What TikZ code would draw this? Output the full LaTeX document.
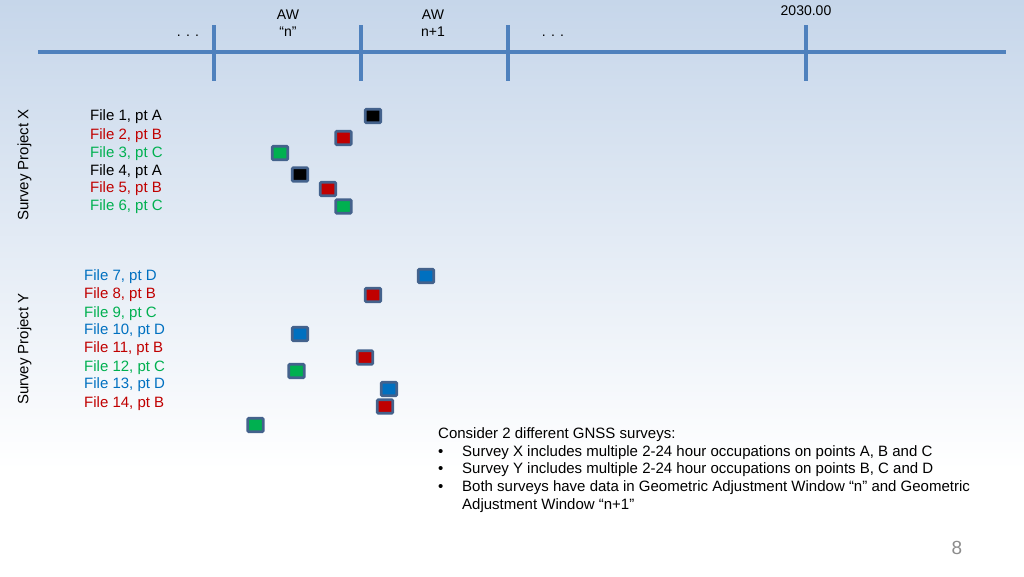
\documentclass[tikz,border=0pt]{standalone}
\usepackage{fontspec}
\setmainfont{Liberation Sans}
\definecolor{axisblue}{RGB}{79,129,189}
\definecolor{ptred}{RGB}{192,0,0}
\definecolor{ptgreen}{RGB}{0,176,80}
\definecolor{ptblue}{RGB}{0,112,192}
\definecolor{boxedge}{RGB}{68,98,140}
\definecolor{skytop}{RGB}{198,214,234}
\definecolor{pagegray}{RGB}{140,140,140}

\tikzset{
  occ/.style={draw=boxedge,line width=2.7pt,minimum width=15.5pt,minimum height=13.5pt,inner sep=0pt,rounded corners=1pt},
  file/.style={anchor=west,inner sep=0pt,yshift=-2pt,font=\fontsize{15}{18}\selectfont},
  toplbl/.style={inner sep=0pt,yshift=-2pt,font=\fontsize{14}{16}\selectfont},
  note/.style={anchor=west,inner sep=0pt,yshift=-2pt,font=\fontsize{15}{18}\selectfont},
  axisline/.style={axisblue,line width=4pt}
}

\begin{document}
\begin{tikzpicture}[x=1pt,y=-1pt,text height=1.5ex,text depth=.25ex]
  \useasboundingbox (0,0) rectangle (1024,576);
  \shade[top color=skytop,bottom color=white] (0,0) rectangle (1024,470);
  \fill[white] (0,470) rectangle (1024,576);

  \coordinate (tlW) at (38,52);
  \coordinate (tlE) at (1006,52);
  \draw[axisline] (tlW) -- (tlE);
  \foreach \t/\x in {a/214,b/361,c/508,d/806}
    \draw[axisline] (\x,25) coordinate (\t top) -- (\x,81) coordinate (\t bot);

  \node[toplbl] (awn) at (288,14) {AW};
  \node[toplbl] (awnq) at (288,31) {“n”};
  \node[toplbl] (awnext) at (433,14) {AW};
  \node[toplbl] (awnextq) at (433,31) {n+1};
  \node[toplbl] (dotsL) at (188,31) {. . .};
  \node[toplbl] (dotsR) at (553,31) {. . .};
  \node[toplbl] (epoch) at (806,10) {2030.00};

  \node[rotate=90,inner sep=0pt,font=\fontsize{15}{18}\selectfont] (projX) at (25,165) {Survey Project X};
  \node[rotate=90,inner sep=0pt,font=\fontsize{15}{18}\selectfont] (projY) at (25,349) {Survey Project Y};

  \foreach \n/\y/\c/\p in {1/115/black/A,2/134/ptred/B,3/152/ptgreen/C,4/170/black/A,5/187/ptred/B,6/205/ptgreen/C}
    \node[file,text=\c] (f\n) at (90,\y) {File \n, pt \p};
  \foreach \n/\y/\c/\p in {7/275/ptblue/D,8/293/ptred/B,9/312/ptgreen/C,10/329/ptblue/D,11/347/ptred/B,12/366/ptgreen/C,13/383/ptblue/D,14/402/ptred/B}
    \node[file,text=\c] (f\n) at (84,\y) {File \n, pt \p};

  \node[occ,fill=black] (o1) at (373,116) {};
  \node[occ,fill=ptred] (o2) at (343.5,138) {};
  \node[occ,fill=ptgreen] (o3) at (280,153) {};
  \node[occ,fill=black] (o4) at (300,174.5) {};
  \node[occ,fill=ptred] (o5) at (328,189) {};
  \node[occ,fill=ptgreen] (o6) at (343.5,206.5) {};
  \node[occ,fill=ptblue] (o7) at (426,276) {};
  \node[occ,fill=ptred] (o8) at (373,295) {};
  \node[occ,fill=ptblue] (o10) at (300,334) {};
  \node[occ,fill=ptred] (o11) at (365,357.5) {};
  \node[occ,fill=ptgreen] (o12) at (296.5,371) {};
  \node[occ,fill=ptblue] (o13) at (389,389) {};
  \node[occ,fill=ptred] (o14) at (385,406.5) {};
  \node[occ,fill=ptgreen] (o9) at (255.5,425) {};

  \node[note] (intro) at (438,433) {Consider 2 different GNSS surveys:};
  \node[note] (bx) at (438,451) {\textbullet};
  \node[note] (lx) at (462,451) {Survey X includes multiple 2-24 hour occupations on points A, B and C};
  \node[note] (by) at (438,468) {\textbullet};
  \node[note] (ly) at (462,468) {Survey Y includes multiple 2-24 hour occupations on points B, C and D};
  \node[note] (bb) at (438,486) {\textbullet};
  \node[note] (lb) at (462,486) {Both surveys have data in Geometric Adjustment Window “n” and Geometric};
  \node[note] (lb2) at (462,504) {Adjustment Window “n+1”};

  \node[text=pagegray,inner sep=0pt,font=\fontsize{19}{22}\selectfont] (pg) at (957,551) {8};
\end{tikzpicture}
\end{document}
